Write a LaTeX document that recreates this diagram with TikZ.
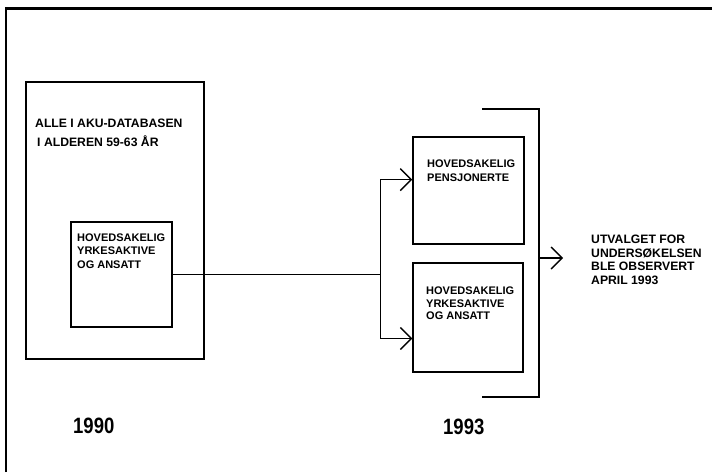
\documentclass[tikz,border=0pt]{standalone}
\usepackage{fontspec}
\setmainfont{Liberation Sans}
\usetikzlibrary{arrows.meta,calc,positioning}

\begin{document}
\begin{tikzpicture}[x=1pt,y=-1pt,
    box/.style={draw,line width=1.5pt,inner sep=0pt},
    lbl/.style={anchor=north west,inner sep=0pt,align=left,
                font=\fontsize{11}{13.5}\selectfont\bfseries},
    biglbl/.style={lbl,font=\fontsize{12.2}{13.8}\selectfont\bfseries},
    yearlbl/.style={anchor=north west,inner sep=0pt,
                font=\fontsize{18.5}{20}\selectfont\bfseries},
    conn/.style={line width=1.4pt},
    arr/.style={-{Straight Barb[length=11pt,width=22pt]}}]

  \useasboundingbox (0,0) rectangle (712,472);

  % page frame
  \draw[line width=2.5pt] (6,472) -- (6,8.5) -- (712,8.5);

  % 1990
  \node[box,minimum width=178pt,minimum height=277pt] (alle) at (115,220.5) {};
  \node[biglbl] (alletxt) at (35,119) {ALLE I AKU-DATABASEN\\[5pt]\,I ALDEREN 59-63 ÅR};
  \node[box,minimum width=101pt,minimum height=105pt] (yrk90) at (121.5,274.5) {};
  \node[lbl] (yrk90txt) at (77,233.5) {HOVEDSAKELIG\\YRKESAKTIVE\\OG ANSATT};

  % 1993
  \node[box,minimum width=111pt,minimum height=107pt] (pens) at (468.5,190.5) {};
  \node[lbl] (penstxt) at (427,160) {HOVEDSAKELIG\\PENSJONERTE};
  \node[box,minimum width=110pt,minimum height=109pt] (yrk93) at (468,317.5) {};
  \node[lbl] (yrk93txt) at (426,287) {HOVEDSAKELIG\\[-1pt]YRKESAKTIVE\\[-1pt]OG ANSATT};

  \coordinate (split) at ($(yrk90.east)+(208,0)$);
  \coordinate (pensin) at ($(pens.north west)!0.4!(pens.south west)$);
  \coordinate (yrk93in) at ($(yrk93.north west)!0.69!(yrk93.south west)$);
  \draw[conn] (yrk90.east) -- (split);
  \draw[conn,arr] (split) |- (pensin);
  \draw[conn,arr] (split) |- (yrk93in);

  % bracket round the sample
  \coordinate (brtop) at (482,109);
  \coordinate (brbot) at (482,397);
  \coordinate (brout) at (539,258);
  \coordinate (brtip) at (563,258);
  \draw[conn] (brtop) -- (brtop -| brout) -- (brbot -| brout) -- (brbot);
  \draw[conn,arr] (brout) -- (brtip);
  \node[biglbl] (utvalg) at (591,234.5) {UTVALGET FOR\\UNDERSØKELSEN\\BLE OBSERVERT\\APRIL 1993};

  \node[yearlbl] (y90) at (73,418) {\scalebox{1}[1.2]{1990}};
  \node[yearlbl] (y93) at (443,419) {\scalebox{1}[1.2]{1993}};

\end{tikzpicture}
\end{document}
